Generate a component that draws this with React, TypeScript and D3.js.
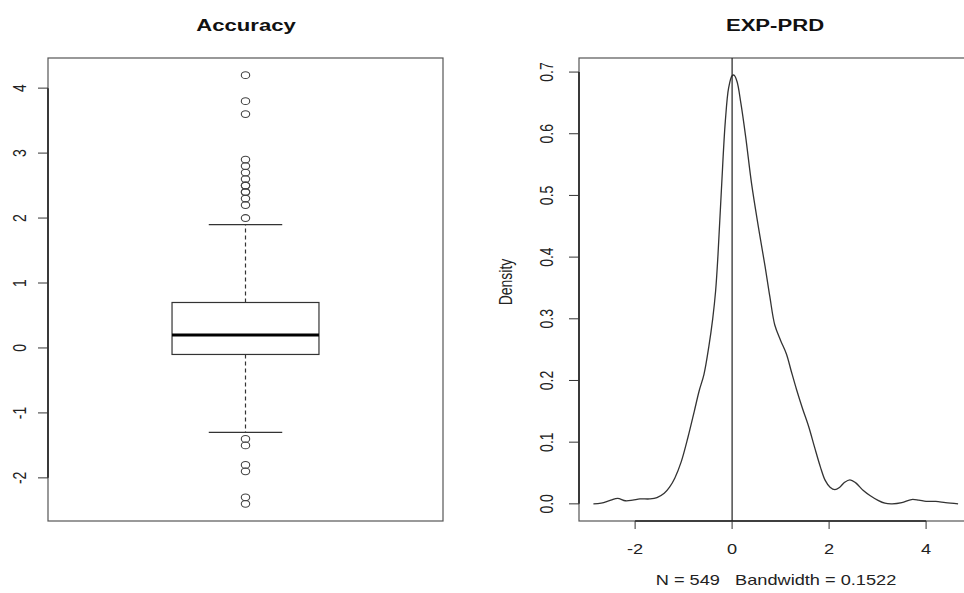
import React, { useRef, useEffect } from "react";
import * as d3 from "d3";

// Accuracy boxplot: lower whisker, Q1, median, Q3, upper whisker
const accuracyStats = [-1.3, -0.1, 0.2, 0.7, 1.9];
const accuracyOutliers = [
  4.2, 3.8, 3.6, 2.9, 2.8, 2.7, 2.6, 2.5, 2.5, 2.4, 2.4, 2.3, 2.2, 2.0,
  -1.4, -1.5, -1.8, -1.9, -2.3, -2.4,
];
const accuracyTicks = [-2, -1, 0, 1, 2, 3, 4];

// EXP-PRD density curve
const densityX = [
  -2.86, -2.7, -2.5, -2.36, -2.2, -2.05, -1.9, -1.7, -1.55, -1.4, -1.29, -1.18,
  -1.05, -0.91, -0.78, -0.68, -0.58, -0.48, -0.4, -0.34, -0.29, -0.22, -0.14,
  -0.07, 0.0, 0.04, 0.1, 0.18, 0.28, 0.4, 0.54, 0.68, 0.78, 0.88, 1.0, 1.12,
  1.22, 1.33, 1.45, 1.58, 1.7, 1.82, 1.92, 2.02, 2.12, 2.22, 2.32, 2.43, 2.55,
  2.7, 2.85, 3.0, 3.15, 3.3, 3.5, 3.7, 3.85, 4.0, 4.2, 4.4, 4.66,
];
const densityY = [
  0.0, 0.001, 0.006, 0.009, 0.005, 0.006, 0.008, 0.008, 0.01, 0.017, 0.027,
  0.042, 0.068, 0.108, 0.15, 0.183, 0.21, 0.255, 0.3, 0.345, 0.405, 0.51, 0.62,
  0.675, 0.694, 0.695, 0.685, 0.65, 0.595, 0.52, 0.45, 0.385, 0.335, 0.29,
  0.265, 0.243, 0.215, 0.185, 0.155, 0.125, 0.092, 0.06, 0.038, 0.027, 0.023,
  0.027, 0.035, 0.039, 0.034, 0.022, 0.013, 0.006, 0.001, 0.0, 0.002, 0.007,
  0.006, 0.004, 0.004, 0.002, 0.0,
];
const densityYTicks = [0, 0.1, 0.2, 0.3, 0.4, 0.5, 0.6, 0.7];
const densityXTicks = [-2, 0, 2, 4];
const densityN = 549;
const densityBw = 0.1522;

const FONT = "'Liberation Sans', Arial, Helvetica, sans-serif";
const STRETCH = 1.3;

const App = () => {
  const svgRef = useRef<SVGSVGElement>(null);

  useEffect(() => {
    const svg = d3.select(svgRef.current);
    svg.selectAll("*").remove();
    const top = 58,
      bottom = 521,
      ink = "#333";

    const hText = (x: number, y: number, txt: string, size: number, bold = false) =>
      svg
        .append("text")
        .attr("transform", `translate(${x},${y}) scale(${STRETCH},1)`)
        .attr("text-anchor", "middle")
        .attr("dominant-baseline", "central")
        .style("font-family", FONT)
        .style("font-size", `${size}px`)
        .style("font-weight", bold ? "bold" : "normal")
        .style("white-space", "pre")
        .attr("fill", bold ? "#111" : "#222")
        .text(txt);

    const vText = (x: number, y: number, txt: string, size: number) =>
      svg
        .append("text")
        .attr("transform", `translate(${x},${y}) scale(${STRETCH},1) rotate(-90)`)
        .attr("text-anchor", "middle")
        .attr("dominant-baseline", "central")
        .style("font-family", FONT)
        .style("font-size", `${size}px`)
        .attr("fill", "#222")
        .text(txt);

    /* ---------- left panel: Accuracy boxplot ---------- */
    const lx = d3.scaleLinear().domain([0.5, 1.5]).range([48, 443]);
    const ly = d3.scaleLinear().domain([-2.664, 4.464]).range([bottom, top]);
    const [wLo, q1, med, q3, wHi] = accuracyStats;
    const boxHalf = 0.186;

    svg
      .append("rect")
      .attr("x", lx(0.5))
      .attr("y", top)
      .attr("width", lx(1.5) - lx(0.5))
      .attr("height", bottom - top)
      .attr("fill", "none")
      .attr("stroke", "#555")
      .attr("stroke-width", 1.2);

    // whiskers
    [
      [q3, wHi],
      [q1, wLo],
    ].forEach(([a, b]) => {
      svg
        .append("line")
        .attr("x1", lx(1))
        .attr("x2", lx(1))
        .attr("y1", ly(a))
        .attr("y2", ly(b))
        .attr("stroke", ink)
        .attr("stroke-width", 1.2)
        .attr("stroke-dasharray", "4,3");
    });
    [wLo, wHi].forEach((v) => {
      svg
        .append("line")
        .attr("x1", lx(1 - boxHalf / 2))
        .attr("x2", lx(1 + boxHalf / 2))
        .attr("y1", ly(v))
        .attr("y2", ly(v))
        .attr("stroke", ink)
        .attr("stroke-width", 1.2);
    });

    svg
      .append("rect")
      .attr("x", lx(1 - boxHalf))
      .attr("y", ly(q3))
      .attr("width", lx(1 + boxHalf) - lx(1 - boxHalf))
      .attr("height", ly(q1) - ly(q3))
      .attr("fill", "white")
      .attr("stroke", ink)
      .attr("stroke-width", 1.2);
    svg
      .append("line")
      .attr("x1", lx(1 - boxHalf))
      .attr("x2", lx(1 + boxHalf))
      .attr("y1", ly(med))
      .attr("y2", ly(med))
      .attr("stroke", "#000")
      .attr("stroke-width", 3);

    svg
      .selectAll(".outlier")
      .data(accuracyOutliers)
      .enter()
      .append("ellipse")
      .attr("class", "outlier")
      .attr("cx", lx(1))
      .attr("cy", (d) => ly(d))
      .attr("rx", 4.2)
      .attr("ry", 3.4)
      .attr("fill", "none")
      .attr("stroke", "#444")
      .attr("stroke-width", 1.1);

    // left y axis
    svg
      .append("line")
      .attr("x1", 48)
      .attr("x2", 48)
      .attr("y1", ly(accuracyTicks[0]))
      .attr("y2", ly(accuracyTicks[accuracyTicks.length - 1]))
      .attr("stroke", "#222")
      .attr("stroke-width", 1.6);
    accuracyTicks.forEach((t) => {
      svg
        .append("line")
        .attr("x1", 38)
        .attr("x2", 48)
        .attr("y1", ly(t))
        .attr("y2", ly(t))
        .attr("stroke", "#333");
      vText(19, ly(t), String(t), 14);
    });
    hText(246, 25, "Accuracy", 17, true);

    /* ---------- right panel: EXP-PRD density ---------- */
    const rx = d3.scaleLinear().domain([-3.157, 4.957]).range([579, 972.5]);
    const ry = d3.scaleLinear().domain([-0.0278, 0.7228]).range([bottom, top]);
    const pts: [number, number][] = densityX.map((x, i) => [x, densityY[i]]);

    svg
      .append("rect")
      .attr("x", rx(-3.157))
      .attr("y", top)
      .attr("width", rx(4.957) - rx(-3.157))
      .attr("height", bottom - top)
      .attr("fill", "none")
      .attr("stroke", "#555")
      .attr("stroke-width", 1.2);

    svg
      .append("path")
      .datum(pts)
      .attr(
        "d",
        d3
          .line<[number, number]>()
          .x((d) => rx(d[0]))
          .y((d) => ry(d[1]))
          .curve(d3.curveCatmullRom.alpha(0.5))
      )
      .attr("fill", "none")
      .attr("stroke", ink)
      .attr("stroke-width", 1.3);

    // abline(v = 0)
    svg
      .append("line")
      .attr("x1", rx(0))
      .attr("x2", rx(0))
      .attr("y1", top)
      .attr("y2", bottom)
      .attr("stroke", "#222")
      .attr("stroke-width", 1.2);

    // y axis
    svg
      .append("line")
      .attr("x1", 579)
      .attr("x2", 579)
      .attr("y1", ry(densityYTicks[0]))
      .attr("y2", ry(densityYTicks[densityYTicks.length - 1]))
      .attr("stroke", "#222")
      .attr("stroke-width", 1.6);
    densityYTicks.forEach((t) => {
      svg
        .append("line")
        .attr("x1", 569)
        .attr("x2", 579)
        .attr("y1", ry(t))
        .attr("y2", ry(t))
        .attr("stroke", "#333");
      vText(546, ry(t), d3.format(".1f")(t), 14);
    });

    // x axis
    svg
      .append("line")
      .attr("x1", rx(densityXTicks[0]))
      .attr("x2", rx(densityXTicks[densityXTicks.length - 1]))
      .attr("y1", bottom)
      .attr("y2", bottom)
      .attr("stroke", "#222")
      .attr("stroke-width", 1.6);
    densityXTicks.forEach((t) => {
      svg
        .append("line")
        .attr("x1", rx(t))
        .attr("x2", rx(t))
        .attr("y1", bottom)
        .attr("y2", bottom + 8)
        .attr("stroke", "#333");
      hText(rx(t), 549, String(t), 14);
    });

    vText(505, 282, "Density", 14);
    hText(776, 580, `N = ${densityN}   Bandwidth = ${densityBw}`, 14);
    hText(775, 25, "EXP-PRD", 17, true);
  }, []);

  return (
    <svg
      ref={svgRef}
      width={964}
      height={593}
      style={{ position: "absolute", left: 0, top: 0, background: "white" }}
    />
  );
};

export default App;
